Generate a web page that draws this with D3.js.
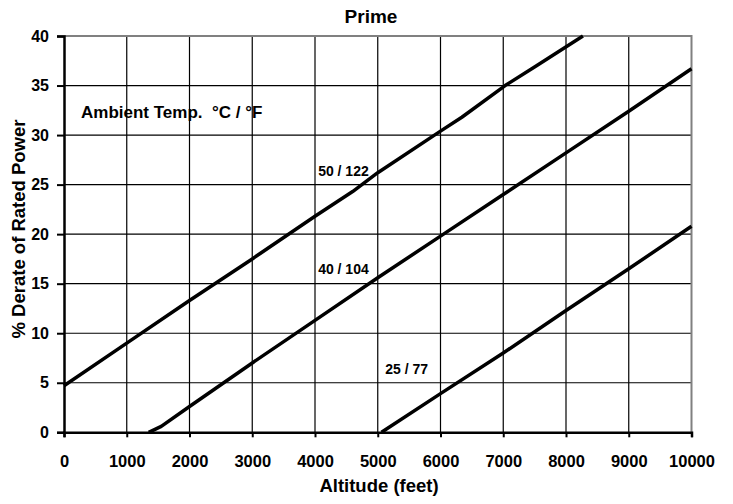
<!DOCTYPE html>
<html>
<head>
<meta charset="utf-8">
<script src="https://cdn.jsdelivr.net/npm/d3@7"></script>
<style>
  body { margin: 0; background: #fff; }
  text { font-family: "Liberation Sans", Arial, sans-serif; font-weight: bold; fill: #000; }
</style>
</head>
<body>
<div id="chart"></div>
<script>
// altitude (feet) / % derate
var altitude50 = [0, 1000, 2000, 3000, 4000, 4600, 5000, 6000, 6340, 7030, 7530, 8270];
var derate50   = [4.7, 9.0, 13.3, 17.5, 21.8, 24.3, 26.2, 30.4, 31.8, 35.0, 37.0, 40];
var altitude40 = [1350, 1550, 2000, 3000, 4000, 5000, 6000, 7000, 8000, 9000, 10000];
var derate40   = [0, 0.6, 2.6, 7.0, 11.3, 15.6, 19.8, 24.0, 28.2, 32.4, 36.7];
var altitude25 = [5060, 6000, 7000, 8000, 9000, 10000];
var derate25   = [0, 3.9, 8.0, 12.3, 16.5, 20.8];
var seriesNames = ["50 / 122", "40 / 104", "25 / 77"];
var xTicks = [0, 1000, 2000, 3000, 4000, 5000, 6000, 7000, 8000, 9000, 10000];
var yTicks = [0, 5, 10, 15, 20, 25, 30, 35, 40];

var width = 733, height = 504;
var svg = d3.select("#chart").append("svg")
    .attr("width", width)
    .attr("height", height);

var x = d3.scaleLinear().domain([0, 10000]).range([64, 691.5]);
var y = d3.scaleLinear().domain([0, 40]).range([432.3, 36]);

// grid
svg.append("g").selectAll("line")
    .data(xTicks.slice(1, -1))
    .enter().append("line")
    .attr("x1", function(d) { return x(d); })
    .attr("x2", function(d) { return x(d); })
    .attr("y1", y(0)).attr("y2", y(40))
    .attr("stroke", "#000").attr("stroke-width", 1.2);
svg.append("g").selectAll("line")
    .data(yTicks.slice(1, -1))
    .enter().append("line")
    .attr("x1", x(0)).attr("x2", x(10000))
    .attr("y1", function(d) { return y(d); })
    .attr("y2", function(d) { return y(d); })
    .attr("stroke", "#000").attr("stroke-width", 1.2);

// gray top / right border
svg.append("path")
    .attr("d", "M" + x(0) + "," + y(40) + "H" + x(10000) + "V" + y(0))
    .attr("fill", "none")
    .attr("stroke", "#808080")
    .attr("stroke-width", 2);

// axes
var xAxis = svg.append("g")
    .attr("transform", "translate(0," + y(0) + ")")
    .call(d3.axisBottom(x).tickValues(xTicks).tickSize(5).tickPadding(18).tickFormat(d3.format("d")));
var yAxis = svg.append("g")
    .attr("transform", "translate(" + x(0) + ",0)")
    .call(d3.axisLeft(y).tickValues(yTicks).tickSize(7).tickPadding(8));
[xAxis, yAxis].forEach(function(a) {
    a.select(".domain").attr("stroke", "#000").attr("stroke-width", 2.5);
    a.selectAll(".tick line").attr("stroke", "#000").attr("stroke-width", 2);
    a.selectAll("text").attr("font-family", null).attr("font-size", null);
});
xAxis.selectAll("text").style("font-size", "16.5px");
yAxis.selectAll("text").style("font-size", "16px");

// curves
var line = d3.line()
    .x(function(d) { return x(d[0]); })
    .y(function(d) { return y(d[1]); });
var curves = [d3.zip(altitude50, derate50), d3.zip(altitude40, derate40), d3.zip(altitude25, derate25)];
svg.append("g").selectAll("path")
    .data(curves)
    .enter().append("path")
    .attr("d", line)
    .attr("fill", "none")
    .attr("stroke", "#000")
    .attr("stroke-width", 3.5)
    .attr("stroke-linejoin", "round");

// curve labels (anchor in data units)
var labelAt = [[4050, 25.9], [4050, 16.0], [5120, 5.9]];
svg.append("g").selectAll("text")
    .data(seriesNames)
    .enter().append("text")
    .attr("x", function(d, i) { return x(labelAt[i][0]); })
    .attr("y", function(d, i) { return y(labelAt[i][1]); })
    .style("font-size", "14px")
    .text(function(d) { return d; });

svg.append("text")
    .attr("x", 81).attr("y", 118)
    .style("font-size", "17px")
    .style("white-space", "pre")
    .text("Ambient Temp.  \u00B0C / \u00B0F");

// titles
svg.append("text")
    .attr("x", 371).attr("y", 23)
    .attr("text-anchor", "middle")
    .style("font-size", "19px")
    .text("Prime");
svg.append("text")
    .attr("x", 379).attr("y", 492)
    .attr("text-anchor", "middle")
    .style("font-size", "18.5px")
    .text("Altitude (feet)");
svg.append("text")
    .attr("transform", "translate(25,229) rotate(-90)")
    .attr("text-anchor", "middle")
    .style("font-size", "18.5px")
    .text("% Derate of Rated Power");
</script>
</body>
</html>
